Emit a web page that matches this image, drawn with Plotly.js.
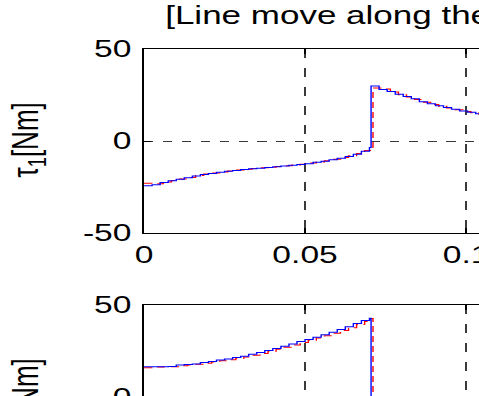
<!DOCTYPE html>
<html>
<head>
<meta charset="utf-8">
<script src="https://cdn.plot.ly/plotly-3.0.1.min.js"></script>
<style>
  html, body { margin: 0; padding: 0; width: 479px; height: 396px; overflow: hidden; background: #fff; }
  #chart { position: absolute; left: 0; top: 0; width: 600px; height: 560px; transform: scaleX(1.4); transform-origin: 0 0; }
</style>
</head>
<body>
<div id="chart"></div>
<script>
// ---- data ----
const titleText = "[Line move along the x-axis]";
const yLabel1 = "τ<sub>1</sub>[Nm]";
const yLabel2 = "τ<sub>2</sub>[Nm]";
const xTicks = [0, 0.05, 0.1, 0.15, 0.2];
const xTickText = ["0", "0.05", "0.1", "0.15", "0.2"];
const yTicks = [-50, 0, 50];
const yTickText = ["-50", "0", "50"];

// actual torque (blue, solid)
const tAct = [0,0.0025,0.005,0.0075,0.01,0.0125,0.015,0.0175,0.02,0.0225,0.025,0.0275,0.03,0.0325,0.035,0.0375,0.04,0.0425,0.045,0.0475,0.05,0.0525,0.055,0.0575,0.06,0.0625,0.065,0.0675,0.07,
              0.0705,0.073,0.0755,0.078,0.0805,0.083,0.0855,0.088,0.0905,0.093,0.0955,0.098,0.1005,0.103,0.1055,0.108,0.11];
const tau1Act = [-24.3,-23.8,-22.5,-21.6,-20.8,-20.0,-19.0,-18.2,-17.6,-17.0,-16.5,-16.0,-15.5,-15.1,-14.8,-14.4,-14.0,-13.6,-13.2,-12.8,-12.3,-11.6,-11.0,-10.2,-9.4,-8.4,-7.2,-5.6,-3.5,
                 29.9,28.0,26.9,25.4,24.2,22.9,21.3,20.2,19.2,18.2,17.3,16.3,15.6,14.8,14.0,13.3,12.7];
const tau2Act = [16.5,16.5,16.5,16.6,17.4,17.6,18.0,18.7,19.3,20.1,20.7,21.4,22.2,23.2,24.2,25.3,26.4,27.6,28.8,30.1,31.3,32.5,33.8,35.2,36.7,38.2,40.0,41.6,42.8,
                 -30.0,-29.5,-29.0,-28.4,-27.8,-27.2,-26.6,-26.0,-25.4,-24.8,-24.2,-23.6,-23.0,-22.4,-21.8,-21.2,-20.6];

// reference torque (red, dashed)
const tRef = [0,0.0035,0.006,0.0085,0.011,0.0135,0.016,0.0185,0.021,0.0235,0.026,0.0285,0.031,0.0335,0.036,0.0385,0.041,0.0435,0.046,0.0485,0.051,0.0535,0.056,0.0585,0.061,0.0635,0.066,0.0685,0.0703,
              0.0711,0.074,0.0765,0.079,0.0815,0.084,0.0865,0.089,0.0915,0.094,0.0965,0.099,0.1015,0.104,0.1065,0.109,0.111];
const tau1Ref = [-23.0,-23.3,-22.3,-21.4,-20.6,-19.8,-18.8,-18.0,-17.4,-16.8,-16.3,-15.8,-15.3,-14.9,-14.6,-14.2,-13.8,-13.4,-13.0,-12.6,-12.0,-11.4,-10.7,-9.9,-9.0,-8.0,-6.8,-5.2,-3.4,
                 28.8,28.3,26.6,25.1,23.9,22.6,21.0,19.9,18.9,17.9,17.0,16.1,15.3,14.5,13.8,13.1,12.6];
const tau2Ref = [15.9,16.3,16.4,16.4,17.0,17.4,17.8,18.4,19.0,19.7,20.3,21.0,21.8,22.7,23.7,24.8,25.9,27.1,28.3,29.6,30.8,32.0,33.3,34.7,36.2,37.7,39.4,41.1,42.6,
                 -30.0,-29.4,-28.9,-28.3,-27.7,-27.1,-26.5,-25.9,-25.3,-24.7,-24.1,-23.5,-22.9,-22.3,-21.7,-21.1,-20.5];

// ---- chart ----
const W = 600, H = 560;
const FONT = "Liberation Sans, Arial, Helvetica, sans-serif";

const refLine = {color: "#ff0000", width: 1, dash: "6px,4px", shape: "hv"};
const actLine = {color: "#0000ff", width: 1, shape: "hv"};

const traces = [
  {x: tRef, y: tau1Ref, xaxis: "x", yaxis: "y", mode: "lines", line: refLine},
  {x: tAct, y: tau1Act, xaxis: "x", yaxis: "y", mode: "lines", line: actLine},
  {x: tRef, y: tau2Ref, xaxis: "x2", yaxis: "y2", mode: "lines", line: refLine},
  {x: tAct, y: tau2Act, xaxis: "x2", yaxis: "y2", mode: "lines", line: actLine}
];

const xDom = [102.9 / W, 562.9 / W];
function xAxis(anchor) {
  return {
    domain: xDom, anchor: anchor, range: [0, 0.2],
    tickvals: xTicks, ticktext: xTickText,
    ticks: "inside", ticklen: 5, tickcolor: "#000", tickwidth: 1,
    showline: true, linecolor: "#000", linewidth: 1.2, mirror: "ticks",
    showgrid: true, gridcolor: "#3a3a3a", gridwidth: 1, griddash: "9px,10px",
    zeroline: false, tickfont: {family: FONT, size: 24, color: "#000"},
    fixedrange: true
  };
}
function yAxis(anchor, dom) {
  return {
    domain: dom, anchor: anchor, range: [-50, 50],
    tickvals: yTicks, ticktext: yTickText,
    ticks: "inside", ticklen: 5, tickcolor: "#000", tickwidth: 1,
    showline: true, linecolor: "#000", linewidth: 1.2, mirror: "ticks",
    showgrid: true, gridcolor: "#3a3a3a", gridwidth: 1, griddash: "6.5px,7px",
    zeroline: false, tickfont: {family: FONT, size: 24, color: "#000"},
    ticklabelstandoff: 3,
    fixedrange: true
  };
}

const layout = {
  width: W, height: H,
  margin: {l: 0, r: 0, t: 0, b: 0},
  paper_bgcolor: "#fff", plot_bgcolor: "#fff",
  showlegend: false,
  title: {text: titleText, x: 118 / W, xanchor: "left", xref: "container",
          y: 1 - 15 / H, yanchor: "middle", yref: "container",
          font: {family: FONT, size: 25, color: "#000"}},
  xaxis: xAxis("y"),
  yaxis: yAxis("x", [1 - 233 / H, 1 - 49 / H]),
  xaxis2: xAxis("y2"),
  yaxis2: yAxis("x2", [1 - 489 / H, 1 - 305 / H]),
  annotations: [
    {text: yLabel1, textangle: -90, xref: "paper", yref: "paper",
     x: 1 / W, xanchor: "left", y: 1 - 140 / H, yanchor: "middle", showarrow: false,
     font: {family: FONT, size: 26, color: "#000"}},
    {text: yLabel2, textangle: -90, xref: "paper", yref: "paper",
     x: 1 / W, xanchor: "left", y: 1 - 396 / H, yanchor: "middle", showarrow: false,
     font: {family: FONT, size: 26, color: "#000"}}
  ]
};

Plotly.newPlot("chart", traces, layout, {staticPlot: true, displayModeBar: false});
</script>
</body>
</html>
